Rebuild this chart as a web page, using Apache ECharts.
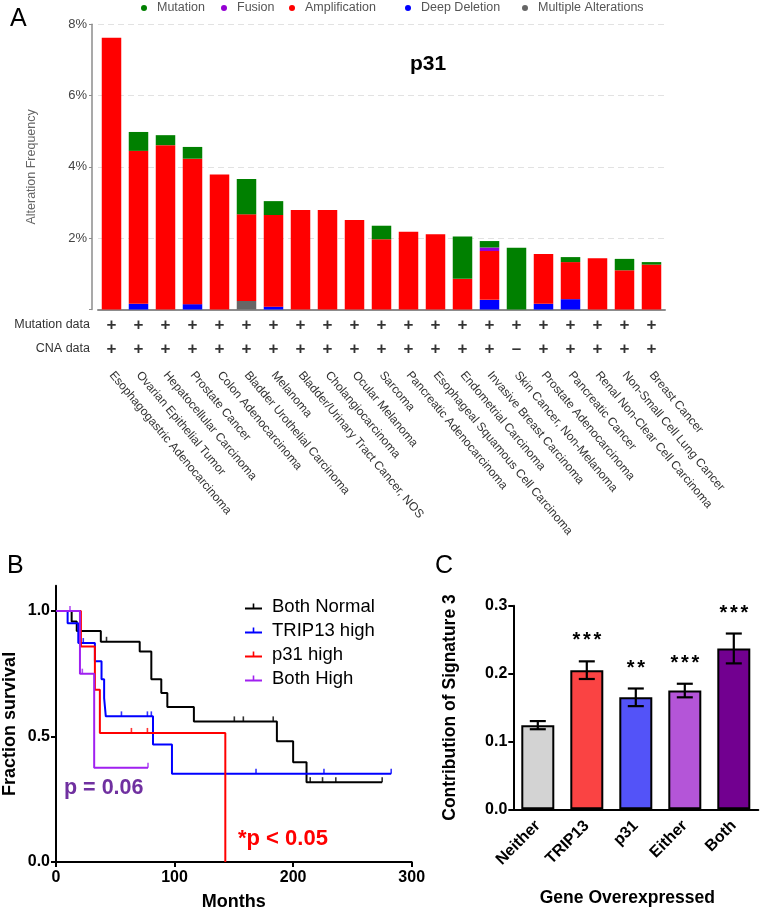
<!DOCTYPE html>
<html><head><meta charset="utf-8">
<script src="https://cdn.jsdelivr.net/npm/echarts@6/dist/echarts.min.js"></script>
<style>html,body{margin:0;padding:0;background:#fff}#c{width:762px;height:912px}</style>
</head><body><div id="c"></div>
<script>
// ---------- Panel A data ----------
const cancerTypes = ['Esophagogastric Adenocarcinoma','Ovarian Epithelial Tumor','Hepatocellular Carcinoma','Prostate Cancer','Colon Adenocarcinoma','Bladder Urothelial Carcinoma','Melanoma','Bladder/Urinary Tract Cancer, NOS','Cholangiocarcinoma','Ocular Melanoma','Sarcoma','Pancreatic Adenocarcinoma','Esophageal Squamous Cell Carcinoma','Endometrial Carcinoma','Invasive Breast Carcinoma','Skin Cancer, Non-Melanoma','Prostate Adenocarcinoma','Pancreatic Cancer','Renal Non-Clear Cell Carcinoma','Non-Small Cell Lung Cancer','Breast Cancer'];
const mutationPct      = [0,0.53,0.28,0.33,0,0.99,0.39,0,0,0,0.38,0,0,1.19,0.18,1.73,0,0.14,0,0.32,0.07];
const fusionPct        = [0,0,0,0,0,0,0,0,0,0,0,0,0,0,0.10,0,0,0,0,0,0];
const amplificationPct = [7.62,4.29,4.61,4.08,3.79,2.43,2.57,2.79,2.79,2.51,1.97,2.18,2.11,0.86,1.37,0,1.40,1.04,1.44,1.10,1.26];
const deepDeletionPct  = [0,0.16,0,0.15,0,0,0.08,0,0,0,0,0,0,0,0.27,0,0.16,0.29,0,0,0];
const multiplePct      = [0,0,0,0,0,0.24,0,0,0,0,0,0,0,0,0,0,0,0,0,0,0];
const mutationDataFlags = ['+','+','+','+','+','+','+','+','+','+','+','+','+','+','+','+','+','+','+','+','+'];
const cnaDataFlags      = ['+','+','+','+','+','+','+','+','+','+','+','+','+','+','+','–','+','+','+','+','+'];
const dataRows = ['Mutation data','CNA data'];
const alterationTicks = [0,2,4,6,8];

// ---------- Panel B data (months, fraction surviving) ----------
const kmNames = ['Both Normal','TRIP13 high','p31 high','Both High'];
const bothNormalCurve = [[0,1],[13.2,0.958],[17.5,0.92],[37.8,0.877],[70.6,0.838],[80.4,0.728],[88.8,0.673],[93.9,0.617],[116.3,0.56],[186.3,0.481],[200,0.397],[211.3,0.318],[275.1,0.318]];
const trip13Curve = [[0,1],[9.8,0.951],[18.8,0.872],[32.8,0.80],[38.4,0.728],[40.6,0.653],[42,0.58],[81.8,0.468],[97.8,0.351],[282.7,0.351]];
const p31Curve = [[0,1],[21,0.858],[32.8,0.686],[37,0.514],[142.8,0]];
const bothHighCurve = [[0,1],[20.2,0.75],[32.2,0.375],[77.6,0.375]];
const bothNormalCensor = [[42.6,0.877],[150.4,0.56],[158,0.56],[183.2,0.56],[214.4,0.318],[224.8,0.318],[236,0.318],[275.1,0.318]];
const trip13Censor = [[23,0.872],[55.2,0.58],[77.1,0.58],[80.4,0.58],[168.7,0.351],[226,0.351],[282.7,0.351]];
const p31Censor = [[63.6,0.514],[77.1,0.514]];
const bothHighCensor = [[11.8,1],[22.2,0.75],[77.6,0.375]];
const monthTicks = [0,100,200,300];
const survivalTicks = [0,0.5,1.0];

// ---------- Panel C data ----------
const geneGroups = ['Neither','TRIP13','p31','Either','Both'];
const sig3Mean = [0.124,0.205,0.165,0.175,0.237];
const sig3Err  = [0.006,0.013,0.013,0.010,0.022];
const sigStars = [0,3,2,3,3];
const sig3Ticks = [0,0.1,0.2,0.3];

const FF = 'Liberation Sans, Arial, sans-serif';
const colA = {mut:'#008000', fus:'#9400D3', amp:'#FF0000', del:'#0000FF', mul:'#666666'};
const kmColors = ['#000000','#0000FF','#FF0000','#A020F0'];
const cColors = ['#D3D3D3','#FA4343','#5353F8','#B455D8','#720090'];

const chart = echarts.init(document.getElementById('c'), null, {renderer:'canvas'});

function barA(name, data, color){
  return {type:'bar', name, data, stack:'alt', xAxisIndex:0, yAxisIndex:0, barWidth:19.5,
    itemStyle:{color}, emphasis:{disabled:true}};
}
function kmLine(name, data, color){
  return {type:'line', name, data, step:'end', xAxisIndex:2, yAxisIndex:2, showSymbol:false, symbol:'none',
    color, itemStyle:{color}, lineStyle:{color, width:2}, z:3};
}
function kmCensor(name, data, color){
  return {type:'scatter', name, data, xAxisIndex:2, yAxisIndex:2, symbol:'rect', symbolSize:[1.6,5],
    symbolOffset:[0,-2.5], itemStyle:{color}, z:4};
}
function legendA(name, left){
  return {data:[name], left, top:1.5, padding:0, icon:'circle', itemWidth:16, itemHeight:6,
    textStyle:{fontSize:12.5, color:'#555', fontFamily:FF}};
}
function renderErr(params, api){
  const i = api.value(0), m = api.value(1), e = api.value(2);
  const hi = api.coord([i, m + e]), lo = api.coord([i, m - e]);
  const hw = 8;
  const st = {stroke:'#000', lineWidth:2.2};
  const ch = [
    {type:'line', shape:{x1:hi[0], y1:hi[1], x2:lo[0], y2:lo[1]}, style:st},
    {type:'line', shape:{x1:hi[0]-hw, y1:hi[1], x2:hi[0]+hw, y2:hi[1]}, style:st},
    {type:'line', shape:{x1:lo[0]-hw, y1:lo[1], x2:lo[0]+hw, y2:lo[1]}, style:st}
  ];
  const n = sigStars[params.dataIndex];
  for (let k = 0; k < n; k++) {
    ch.push({type:'text', x: hi[0] + (k - (n-1)/2) * 10.5, y: hi[1] - 20.5,
      style:{text:'*', fontSize:20, fontWeight:'bold', fontFamily:FF, fill:'#000', align:'center', verticalAlign:'middle'}});
  }
  return {type:'group', children:ch};
}
function gtext(text, x, y, size, weight, color){
  return {type:'text', x, y, style:{text, fontSize:size, fontWeight:weight, fontFamily:FF, fill:color,
    align:'left', verticalAlign:'middle', textAlign:'left', textVerticalAlign:'middle'}};
}

const option = {
  animation:false,
  textStyle:{fontFamily:FF},
  legend:[
    legendA('Mutation',141), legendA('Fusion',221), legendA('Amplification',289),
    legendA('Deep Deletion',405), legendA('Multiple Alterations',522),
    {data:kmNames, orient:'vertical', left:245, top:597, padding:0, itemGap:5, itemWidth:17, itemHeight:6,
     icon:'path://M0,4h17v2h-17z M7.7,0h1.6v5h-1.6z',
     textStyle:{fontSize:18.5, color:'#000', fontFamily:FF, padding:[0,0,0,5]}}
  ],
  grid:[
    {left:98, top:24.3, width:567, height:285.2},
    {left:98, top:313, width:567, height:48},
    {left:54.3, top:585.8, width:357.4, height:276.9},
    {left:513.3, top:605.7, width:245, height:203.6}
  ],
  xAxis:[
    {gridIndex:0, type:'category', data:cancerTypes,
     axisLine:{lineStyle:{color:'#8c8c8c', width:2}}, axisTick:{show:false},
     axisLabel:{interval:0, rotate:-50, margin:63.5, fontSize:12, color:'#333', fontFamily:FF}},
    {gridIndex:1, type:'category', data:cancerTypes, show:false},
    {gridIndex:2, type:'value', min:0, max:300, interval:100,
     axisLine:{lineStyle:{color:'#000', width:2}},
     axisTick:{show:true, inside:false, length:5, lineStyle:{color:'#000', width:2}, customValues:monthTicks},
     axisLabel:{fontSize:16, fontWeight:'bold', color:'#000', margin:8, customValues:monthTicks},
     splitLine:{show:false},
     name:'Months', nameLocation:'middle', nameGap:31,
     nameTextStyle:{fontSize:18, fontWeight:'bold', color:'#000', fontFamily:FF}},
    {gridIndex:3, type:'category', data:geneGroups,
     axisLine:{lineStyle:{color:'#000', width:2}},
     axisTick:{alignWithLabel:true, length:5, lineStyle:{color:'#000', width:2}},
     axisLabel:{interval:0, rotate:45, margin:14, fontSize:16, fontWeight:'bold', color:'#000'},
     name:'Gene Overexpressed', nameLocation:'middle', nameGap:80,
     nameTextStyle:{fontSize:17.5, fontWeight:'bold', color:'#000', fontFamily:FF, padding:[0,17,0,0]}}
  ],
  yAxis:[
    {gridIndex:0, type:'value', min:0, max:8, interval:2, offset:6,
     axisLine:{show:true, lineStyle:{color:'#8c8c8c', width:1.5}},
     axisTick:{show:true, length:3, lineStyle:{color:'#8c8c8c'}, customValues:alterationTicks},
     axisLabel:{fontSize:13, color:'#444', margin:5, customValues:alterationTicks,
       formatter:v => v === 0 ? '' : v + '%'},
     splitLine:{show:true, lineStyle:{color:'#e2e2e2', type:[6,4], width:1}},
     name:'Alteration Frequency', nameLocation:'middle', nameGap:54,
     nameTextStyle:{fontSize:12.5, color:'#666', fontFamily:FF}},
    {gridIndex:1, type:'category', data:dataRows, inverse:true,
     axisLine:{show:false}, axisTick:{show:false}, splitLine:{show:false},
     axisLabel:{margin:8, fontSize:12.5, color:'#333'}},
    {gridIndex:2, type:'value', min:0, max:1.1,
     axisLine:{show:true, lineStyle:{color:'#000', width:2}},
     axisTick:{show:true, length:5, lineStyle:{color:'#000', width:2}, customValues:survivalTicks},
     axisLabel:{fontSize:16, fontWeight:'bold', color:'#000', margin:6, customValues:survivalTicks,
       formatter:v => v.toFixed(1)},
     splitLine:{show:false},
     name:'Fraction survival', nameLocation:'middle', nameGap:37,
     nameTextStyle:{fontSize:18, fontWeight:'bold', color:'#000', fontFamily:FF}},
    {gridIndex:3, type:'value', min:0, max:0.3,
     axisLine:{show:true, lineStyle:{color:'#000', width:2}},
     axisTick:{show:true, length:5, lineStyle:{color:'#000', width:2}, customValues:sig3Ticks},
     axisLabel:{fontSize:16, fontWeight:'bold', color:'#000', margin:6, customValues:sig3Ticks,
       formatter:v => v.toFixed(1)},
     splitLine:{show:false},
     name:'Contribution of Signature 3', nameLocation:'middle', nameGap:54,
     nameTextStyle:{fontSize:17.5, fontWeight:'bold', color:'#000', fontFamily:FF}}
  ],
  series:[
    barA('Deep Deletion', deepDeletionPct, colA.del),
    barA('Multiple Alterations', multiplePct, colA.mul),
    barA('Amplification', amplificationPct, colA.amp),
    barA('Fusion', fusionPct, colA.fus),
    barA('Mutation', mutationPct, colA.mut),
    {type:'scatter', name:'rows', xAxisIndex:1, yAxisIndex:1, symbolSize:1, itemStyle:{color:'rgba(0,0,0,0)'},
     data: cancerTypes.map((c,i)=>[i, dataRows[0], mutationDataFlags[i]])
       .concat(cancerTypes.map((c,i)=>[i, dataRows[1], cnaDataFlags[i]])),
     label:{show:true, position:'inside', formatter:p => p.value[2], fontSize:17, fontWeight:'bold', color:'#000'}},
    kmLine(kmNames[0], bothNormalCurve, kmColors[0]),
    kmLine(kmNames[1], trip13Curve, kmColors[1]),
    kmLine(kmNames[2], p31Curve, kmColors[2]),
    kmLine(kmNames[3], bothHighCurve, kmColors[3]),
    kmCensor('Both Normal censored', bothNormalCensor, kmColors[0]),
    kmCensor('TRIP13 high censored', trip13Censor, kmColors[1]),
    kmCensor('p31 high censored', p31Censor, kmColors[2]),
    kmCensor('Both High censored', bothHighCensor, kmColors[3]),
    {type:'bar', name:'Signature 3', xAxisIndex:3, yAxisIndex:3, barWidth:33,
     data: sig3Mean.map((v,i)=>({value:v, itemStyle:{color:cColors[i]}})),
     itemStyle:{borderColor:'#000', borderWidth:2}},
    {type:'custom', name:'SEM', xAxisIndex:3, yAxisIndex:3, renderItem:renderErr, z:5,
     data: sig3Mean.map((v,i)=>[i, v, sig3Err[i]])}
  ],
  graphic:[
    gtext('A', 10, 19.3, 25, 'normal', '#000'),
    gtext('p31', 410, 64.2, 21, 'bold', '#000'),
    gtext('B', 7, 566.3, 25, 'normal', '#000'),
    gtext('C', 435, 566.3, 25, 'normal', '#000'),
    gtext('p = 0.06', 64, 788.5, 21.5, 'bold', '#7030A0'),
    gtext('*p < 0.05', 238, 839, 22, 'bold', '#FF0000')
  ]
};
chart.setOption(option);
</script></body></html>
